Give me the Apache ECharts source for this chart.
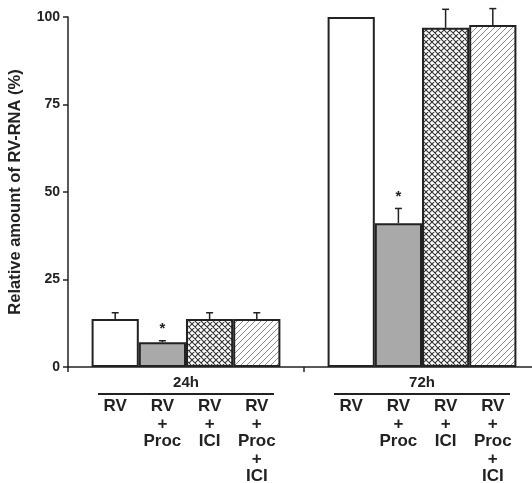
<!DOCTYPE html>
<html>
<head>
<meta charset="utf-8">
<script src="https://cdn.jsdelivr.net/npm/echarts@6/dist/echarts.min.js"></script>
<style>
html, body { margin: 0; padding: 0; background: #fff; }
#chart { width: 532px; height: 483px; }
</style>
</head>
<body>
<div id="chart"></div>
<script>
const timePoints = ['24h', '72h']
const treatments = ['RV', 'RV\n+\nProc', 'RV\n+\nICI', 'RV\n+\nProc\n+\nICI']
const mean24h = [13.7, 7.1, 13.7, 13.7]
const mean72h = [100, 41.1, 96.9, 97.7]
const sd24h = [1.8, 0.4, 1.8, 1.8]
const sd72h = [0, 4.2, 5.3, 4.7]
const significant = [false, true, false, false]
const yTicks = [0, 25, 50, 75, 100]

const font = 'Liberation Sans, Arial, sans-serif'
const ink = '#222'
const catGap = 0.2

// fill textures for the four treatments
function makeTile(draw) {
  const c = document.createElement('canvas')
  c.width = 6
  c.height = 6
  const ctx = c.getContext('2d')
  ctx.fillStyle = '#fff'
  ctx.fillRect(0, 0, 6, 6)
  draw(ctx)
  return c
}
const crossTile = makeTile(ctx => {
  ctx.strokeStyle = '#333'
  ctx.lineWidth = 1.1
  ctx.beginPath()
  ctx.moveTo(0, 0); ctx.lineTo(6, 6)
  ctx.moveTo(6, 0); ctx.lineTo(0, 6)
  ctx.moveTo(-3, 3); ctx.lineTo(3, -3)
  ctx.moveTo(3, 9); ctx.lineTo(9, 3)
  ctx.stroke()
})
const hatchTile = makeTile(ctx => {
  ctx.strokeStyle = '#8a8a8a'
  ctx.lineWidth = 1
  ctx.beginPath()
  ctx.moveTo(0, 6); ctx.lineTo(6, 0)
  ctx.moveTo(-3, 3); ctx.lineTo(3, -3)
  ctx.moveTo(3, 9); ctx.lineTo(9, 3)
  ctx.stroke()
})
const fills = [
  '#fff',
  '#a9a9a9',
  { image: crossTile, repeat: 'repeat' },
  { image: hatchTile, repeat: 'repeat' },
]

const chart = echarts.init(document.getElementById('chart'))

const barSeries = treatments.map((name, i) => ({
  type: 'bar',
  name: name,
  data: [mean24h[i], mean72h[i]],
  barGap: '0%',
  barCategoryGap: catGap * 100 + '%',
  itemStyle: { color: fills[i], borderColor: ink, borderWidth: 2 },
  label: {
    show: true,
    position: 'bottom',
    distance: 31,
    formatter: () => name,
    color: ink,
    fontFamily: font,
    fontWeight: 'bold',
    fontSize: 17,
    lineHeight: 17.5,
  },
  emphasis: { disabled: true },
}))

const errData = []
treatments.forEach((name, i) => {
  errData.push([0, i, mean24h[i], sd24h[i], significant[i] ? '*' : ''])
  errData.push([1, i, mean72h[i], sd72h[i], significant[i] ? '*' : ''])
})

const errSeries = {
  type: 'custom',
  data: errData,
  encode: { x: 0, y: 2 },
  clip: false,
  z: 5,
  renderItem: (params, api) => {
    const cat = api.value(0)
    const idx = api.value(1)
    const mean = api.value(2)
    const sd = api.value(3)
    const star = errData[params.dataIndex][4]
    const band = api.size([1, 0])[0]
    const barW = band * (1 - catGap) / treatments.length
    const base = api.coord([cat, mean])
    const x = base[0] + (idx - 1.5) * barW
    const top = api.coord([cat, mean + sd])[1]
    const children = []
    if (sd > 0) {
      children.push({
        type: 'line',
        shape: { x1: x, y1: base[1], x2: x, y2: top },
        style: { stroke: ink, lineWidth: 1.5 },
      })
      children.push({
        type: 'line',
        shape: { x1: x - 3.5, y1: top, x2: x + 3.5, y2: top },
        style: { stroke: ink, lineWidth: 1.5 },
      })
    }
    if (star) {
      children.push({
        type: 'text',
        x: x,
        y: top - 4,
        style: {
          text: star,
          fill: ink,
          font: 'bold 15px ' + font,
          align: 'center',
          verticalAlign: 'bottom',
        },
      })
    }
    return { type: 'group', children: children }
  },
}

chart.setOption({
  backgroundColor: '#fff',
  animation: false,
  grid: { left: 68, right: -8, top: 17, bottom: 116, outerBoundsMode: 'none' },
  xAxis: {
    type: 'category',
    data: timePoints,
    axisLine: { lineStyle: { color: ink, width: 1.5 } },
    axisTick: { show: true, length: 5, lineStyle: { color: ink, width: 1.5 } },
    axisLabel: {
      margin: 6,
      formatter: v => '{t|' + v + '}\n{u|}',
      rich: {
        t: {
          fontFamily: font,
          fontWeight: 'bold',
          fontSize: 15,
          lineHeight: 20,
          color: ink,
        },
        u: { width: 176, height: 2, backgroundColor: ink },
      },
    },
  },
  yAxis: {
    type: 'value',
    min: yTicks[0],
    max: yTicks[yTicks.length - 1],
    interval: 25,
    name: 'Relative amount of RV-RNA (%)',
    nameLocation: 'middle',
    nameGap: 44,
    nameTextStyle: {
      fontFamily: font,
      fontWeight: 'bold',
      fontSize: 16.5,
      color: ink,
    },
    splitLine: { show: false },
    axisLine: { show: true, lineStyle: { color: ink, width: 1.5 } },
    axisTick: { show: true, length: 5, lineStyle: { color: ink, width: 1.5 } },
    axisLabel: {
      margin: 8,
      fontFamily: font,
      fontWeight: 'bold',
      fontSize: 14,
      color: ink,
    },
  },
  series: barSeries.concat([errSeries]),
})
</script>
</body>
</html>
